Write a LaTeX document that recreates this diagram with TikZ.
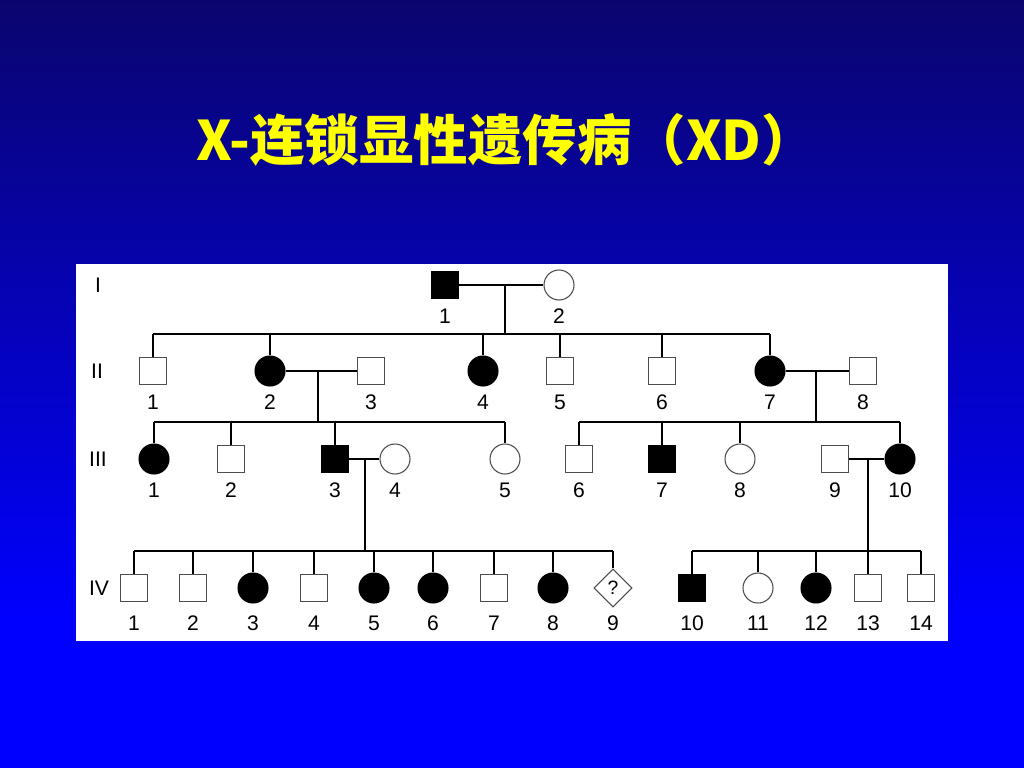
\documentclass[tikz,border=0pt]{standalone}
\usepackage{fontspec}
\setmainfont{Liberation Sans}
\newfontfamily\cjk{Noto Sans CJK SC}
\usetikzlibrary{shapes.geometric}
\definecolor{navy}{RGB}{10,5,110}
\definecolor{slideblue}{RGB}{0,0,255}
\definecolor{titleyellow}{RGB}{255,255,0}
\tikzset{
  male/.style={draw=black!70,fill=white,line width=0.6pt,minimum size=0.54cm,inner sep=0pt},
  female/.style={circle,draw=black!70,fill=white,line width=0.6pt,minimum size=0.6cm,inner sep=0pt},
  affmale/.style={male,fill=black,draw=black},
  afffemale/.style={female,fill=black,draw=black},
  unknown/.style={diamond,draw=black!70,fill=white,line width=0.6pt,minimum size=0.76cm,inner sep=0pt,font=\fontsize{11}{11}\selectfont},
  num/.style={font=\fontsize{12}{12}\selectfont,inner sep=0pt},
  line/.style={line width=0.8pt}
}

\begin{document}
\begin{tikzpicture}[x=0.02cm,y=-0.02cm]
      \useasboundingbox (0,0) rectangle (1024,768);
      \fill[slideblue] (0,0) rectangle (1024,768);
      \shade[top color=navy,bottom color=slideblue] (0,0) rectangle (1024,620);
      \node[text=titleyellow,font=\cjk\bfseries\fontsize{31}{31}\selectfont] (title) at (506,140) {X-连锁显性遗传病（XD）};
      \fill[white] (76,264) rectangle (948,641);
      % generations
      \node[num] (gI) at (98,285) {I};
      \node[num] (gII) at (97,371) {II};
      \node[num] (gIII) at (98,459) {III};
      \node[num] (gIV) at (99,588) {IV};
      % I
      \node[affmale] (I1) at (445,285) {};
      \node[female] (I2) at (559,285) {};
      \node[num] (I1l) at (445,316) {1};
      \node[num] (I2l) at (559,316) {2};
      % II
      \foreach \n/\s/\x in {1/male/153,2/afffemale/270,3/male/371,4/afffemale/483,
        5/male/560,6/male/662,7/afffemale/770,8/male/863}{
        \node[\s] (II\n) at (\x,371) {};
        \node[num] (II\n l) at (\x,402) {\n};
      }
      % III
      \foreach \n/\s/\x in {1/afffemale/154,2/male/231,3/affmale/335,4/female/395,5/female/505,
        6/male/579,7/affmale/662,8/female/740,9/male/835,10/afffemale/900}{
        \node[\s] (III\n) at (\x,459) {};
        \node[num] (III\n l) at (\x,490) {\n};
      }
      % IV
      \foreach \n/\s/\x in {1/male/134,2/male/193,3/afffemale/253,4/male/314,5/afffemale/374,
        6/afffemale/433,7/male/494,8/afffemale/553,10/affmale/692,11/female/758,
        12/afffemale/816,13/male/868,14/male/921}{
        \node[\s] (IV\n) at (\x,588) {};
        \node[num] (IV\n l) at (\x,623) {\n};
      }
      \node[unknown] (IV9) at (613,588) {?};
      \node[num] (IV9l) at (613,623) {9};
      % couples and sibships
      \coordinate (mI) at (505,285);
      \coordinate (sI) at (505,334);
      \draw[line] (I1) -- (I2) (mI) -- (sI) (II1 |- sI) -- (II7 |- sI);
      \foreach \n in {1,2,4,5,6,7} \draw[line] (II\n |- sI) -- (II\n);
      \coordinate (mIIa) at (318,371);
      \coordinate (sIIa) at (318,422);
      \draw[line] (II2) -- (II3) (mIIa) -- (sIIa) (III1 |- sIIa) -- (III5 |- sIIa);
      \foreach \n in {1,2,3,5} \draw[line] (III\n |- sIIa) -- (III\n);
      \coordinate (mIIb) at (816,371);
      \coordinate (sIIb) at (816,422);
      \draw[line] (II7) -- (II8) (mIIb) -- (sIIb) (III6 |- sIIb) -- (III10 |- sIIb);
      \foreach \n in {6,7,8,10} \draw[line] (III\n |- sIIb) -- (III\n);
      \coordinate (mIIIa) at (365,459);
      \coordinate (sIIIa) at (365,551);
      \draw[line] (III3) -- (III4) (mIIIa) -- (sIIIa) (IV1 |- sIIIa) -- (IV9 |- sIIIa);
      \foreach \n in {1,...,9} \draw[line] (IV\n |- sIIIa) -- (IV\n);
      \coordinate (mIIIb) at (868,459);
      \coordinate (sIIIb) at (868,551);
      \draw[line] (III9) -- (III10) (mIIIb) -- (sIIIb) (IV10 |- sIIIb) -- (IV14 |- sIIIb);
      \foreach \n in {10,...,14} \draw[line] (IV\n |- sIIIb) -- (IV\n);
\end{tikzpicture}
\end{document}
